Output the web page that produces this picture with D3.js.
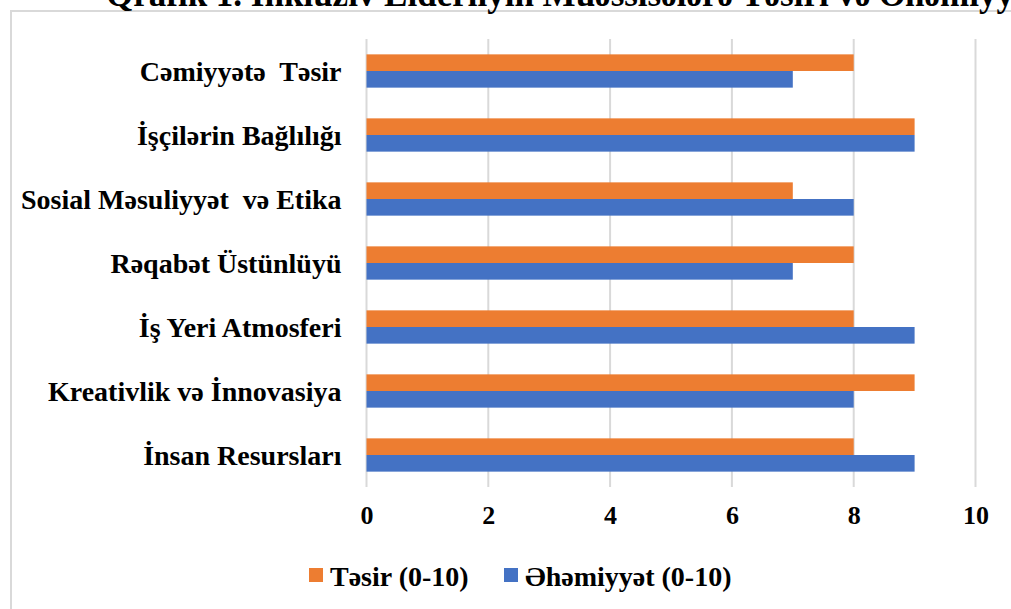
<!DOCTYPE html>
<html>
<head>
<meta charset="utf-8">
<script src="https://cdn.jsdelivr.net/npm/d3@7"></script>
<style>
  html, body { margin: 0; padding: 0; background: #fff; overflow: hidden; }
  text { white-space: pre; }
</style>
</head>
<body>
<script>
const WIDTH = 1011;
const HEIGHT = 609;
const SERIF = '"Liberation Serif", "Times New Roman", "DejaVu Serif", serif';

var categories = ['Cəmiyyətə  Təsir', 'İşçilərin Bağlılığı', 'Sosial Məsuliyyət  və Etika',
    'Rəqabət Üstünlüyü', 'İş Yeri Atmosferi', 'Kreativlik və İnnovasiya', 'İnsan Resursları'];
var tesir = [8, 9, 7, 8, 8, 9, 8];
var ehemiyyet = [7, 9, 8, 7, 9, 8, 9];
var seriesNames = ['Təsir (0-10)', 'Əhəmiyyət (0-10)'];
var seriesColors = ['#ED7D31', '#4472C4'];
var xTicks = [0, 2, 4, 6, 8, 10];
var title = 'Qrafik 1. İnklüziv Liderliyin Müəssisələrə Təsiri və Əhəmiyyəti';

var svg = d3.select('body').append('svg')
    .attr('width', WIDTH)
    .attr('height', HEIGHT);

// chart frame (only top and left edges are in view)
svg.append('rect')
    .attr('x', 11).attr('y', 11)
    .attr('width', 1100).attr('height', 700)
    .attr('fill', 'none')
    .attr('stroke', '#d9d9d9')
    .attr('stroke-width', 2);

// caption, clipped at the top of the picture
svg.append('text')
    .attr('x', 106).attr('y', 6)
    .attr('font-family', SERIF)
    .attr('font-size', 35)
    .attr('font-weight', 'bold')
    .text(title);

var x = d3.scaleLinear().domain([0, 10]).range([366.5, 975.5]);
var y = d3.scaleBand().domain(categories).range([39, 487])
    .paddingInner(0.48).paddingOuter(0.24);
var sub = d3.scaleBand().domain([0, 1]).range([0, y.bandwidth()]);

// gridlines
svg.append('g').selectAll('line')
    .data(xTicks)
    .enter().append('line')
    .attr('x1', d => x(d)).attr('x2', d => x(d))
    .attr('y1', 39).attr('y2', 487)
    .attr('stroke', '#d9d9d9')
    .attr('stroke-width', 2);

var rows = categories.map(function(c, i) { return {cat: c, vals: [tesir[i], ehemiyyet[i]]}; });

var groups = svg.append('g').selectAll('g')
    .data(rows)
    .enter().append('g')
    .attr('transform', d => 'translate(0,' + y(d.cat) + ')');

groups.selectAll('rect')
    .data(d => d.vals)
    .enter().append('rect')
    .attr('x', x(0))
    .attr('y', (d, i) => sub(i))
    .attr('width', d => x(d) - x(0))
    .attr('height', sub.bandwidth())
    .attr('fill', (d, i) => seriesColors[i]);

// category labels
var yAxis = svg.append('g')
    .attr('transform', 'translate(' + (x(0) - 25) + ',0)')
    .call(d3.axisLeft(y).tickSize(0).tickPadding(0));
yAxis.select('.domain').remove();
yAxis.selectAll('text')
    .attr('font-family', SERIF)
    .attr('font-size', 28)
    .attr('font-weight', 'bold')
    .attr('fill', '#000')
    .attr('dy', '0.35em');

// value axis labels
var xAxis = svg.append('g')
    .attr('transform', 'translate(0,' + 506 + ')')
    .call(d3.axisBottom(x).tickValues(xTicks).tickSize(0).tickPadding(0));
xAxis.select('.domain').remove();
xAxis.selectAll('text')
    .attr('font-family', SERIF)
    .attr('font-size', 26)
    .attr('font-weight', 'bold')
    .attr('fill', '#000');

// legend
var legendX = [309, 504];
var legend = svg.append('g')
    .attr('font-family', SERIF)
    .selectAll('g')
    .data(seriesNames)
    .enter().append('g')
    .attr('transform', (d, i) => 'translate(' + legendX[i] + ',568)');
legend.append('rect')
    .attr('width', 14).attr('height', 14)
    .attr('fill', (d, i) => seriesColors[i]);
legend.append('text')
    .attr('x', 21).attr('y', 8)
    .attr('dy', '0.35em')
    .style('font-family', SERIF)
    .attr('font-size', 28)
    .attr('font-weight', 'bold')
    .text(d => d);
</script>
</body>
</html>
